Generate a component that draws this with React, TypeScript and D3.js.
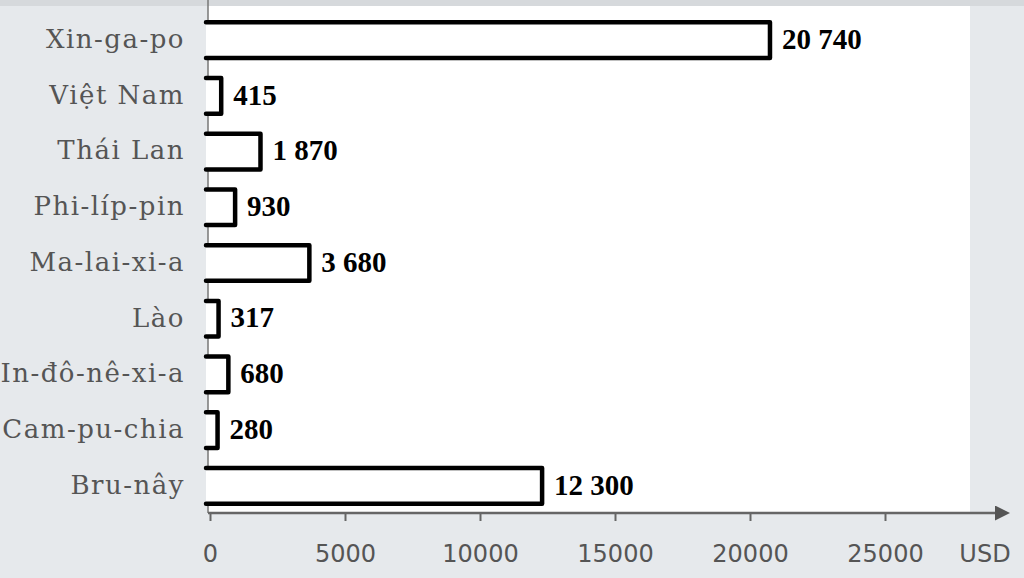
import React, { useEffect, useRef } from "react";
import * as d3 from "d3";

const countries = [
  "Xin-ga-po",
  "Việt Nam",
  "Thái Lan",
  "Phi-líp-pin",
  "Ma-lai-xi-a",
  "Lào",
  "In-đô-nê-xi-a",
  "Cam-pu-chia",
  "Bru-nây",
];
const gdpPerCapita = [20740, 415, 1870, 930, 3680, 317, 680, 280, 12300];
const tickValues = [0, 5000, 10000, 15000, 20000, 25000];
const unitLabel = "USD";

const App = () => {
  const svgRef = useRef<SVGSVGElement>(null);

  useEffect(() => {
    const width = 1024;
    const height = 578;
    const svg = d3.select(svgRef.current);
    svg.selectAll("*").remove();
    svg.attr("width", width).attr("height", height);

    const left = 208;
    const axisY = 513;

    // scanned page background
    svg.append("rect").attr("width", width).attr("height", height).attr("fill", "#e6e9ec");
    svg.append("rect").attr("x", 0).attr("y", 0).attr("width", width).attr("height", 6).attr("fill", "#d6d9dc");
    svg.append("rect").attr("x", left).attr("y", 6).attr("width", 970 - left).attr("height", axisY - 6).attr("fill", "#ffffff");

    const x = d3.scaleLinear().domain([0, 25000]).range([210, 885]);
    const y = d3.scaleBand<string>().domain(countries).range([14, 512]).paddingInner(0.36).paddingOuter(0.15);

    const fmt = d3.formatLocale({ decimal: ",", thousands: " ", grouping: [3], currency: ["", ""] }).format(",d");

    const rows = countries.map((c, i) => ({ country: c, value: gdpPerCapita[i] }));

    // vertical axis line
    svg.append("line")
      .attr("x1", left).attr("x2", left).attr("y1", 0).attr("y2", axisY)
      .attr("stroke", "#777").attr("stroke-width", 1.5);

    // bars, open on the left like the drawn original
    svg.append("g")
      .selectAll("path")
      .data(rows)
      .join("path")
      .attr("d", (d) => {
        const p = d3.path();
        const y0 = y(d.country)!;
        const y1 = y0 + y.bandwidth();
        p.moveTo(x(0) - 4, y0);
        p.lineTo(x(d.value), y0);
        p.lineTo(x(d.value), y1);
        p.lineTo(x(0) - 4, y1);
        return p.toString();
      })
      .attr("fill", "#fff")
      .attr("stroke", "#000")
      .attr("stroke-width", 4.5)
      .attr("stroke-linejoin", "round")
      .attr("stroke-linecap", "round");

    // value labels
    svg.append("g")
      .selectAll("text")
      .data(rows)
      .join("text")
      .attr("x", (d) => x(d.value) + 12)
      .attr("y", (d) => y(d.country)! + y.bandwidth() / 2)
      .attr("dy", "0.3em")
      .attr("font-family", "'Liberation Serif', 'Times New Roman', serif")
      .attr("font-weight", "bold")
      .attr("font-size", 29)
      .attr("fill", "#000")
      .text((d) => fmt(d.value));

    // category labels
    svg.append("g")
      .selectAll("text")
      .data(rows)
      .join("text")
      .attr("x", 185)
      .attr("y", (d) => y(d.country)! + y.bandwidth() / 2)
      .attr("dy", "0.3em")
      .attr("text-anchor", "end")
      .attr("font-family", "'DejaVu Serif', serif")
      .attr("font-size", 26)
      .attr("letter-spacing", 1.5)
      .attr("fill", "#555")
      .text((d) => d.country);

    // x axis with arrow
    svg.append("defs")
      .append("marker")
      .attr("id", "arrow")
      .attr("viewBox", "0 0 10 10")
      .attr("refX", 2).attr("refY", 5)
      .attr("markerWidth", 6).attr("markerHeight", 6)
      .attr("orient", "auto")
      .append("path")
      .attr("d", "M0,0 L10,5 L0,10 z")
      .attr("fill", "#555");

    svg.append("line")
      .attr("x1", left).attr("x2", 998).attr("y1", axisY).attr("y2", axisY)
      .attr("stroke", "#666").attr("stroke-width", 2.5)
      .attr("marker-end", "url(#arrow)");

    const ax = svg.append("g")
      .attr("transform", `translate(0,${axisY})`)
      .call(d3.axisBottom(x).tickValues(tickValues).tickSize(8).tickFormat((d) => String(d)));
    ax.select(".domain").remove();
    ax.selectAll(".tick line").attr("stroke", "#666").attr("stroke-width", 2);
    ax.selectAll(".tick text")
      .attr("y", 32)
      .attr("font-family", "'DejaVu Sans', sans-serif")
      .attr("font-size", 24)
      .attr("fill", "#555");

    svg.append("text")
      .attr("x", 985).attr("y", 562)
      .attr("text-anchor", "middle")
      .attr("font-family", "'DejaVu Sans', sans-serif")
      .attr("font-size", 24)
      .attr("fill", "#555")
      .text(unitLabel);
  }, []);

  return (
    <svg ref={svgRef} style={{ position: "absolute", left: 0, top: 0, display: "block" }}></svg>
  );
};

export default App;
